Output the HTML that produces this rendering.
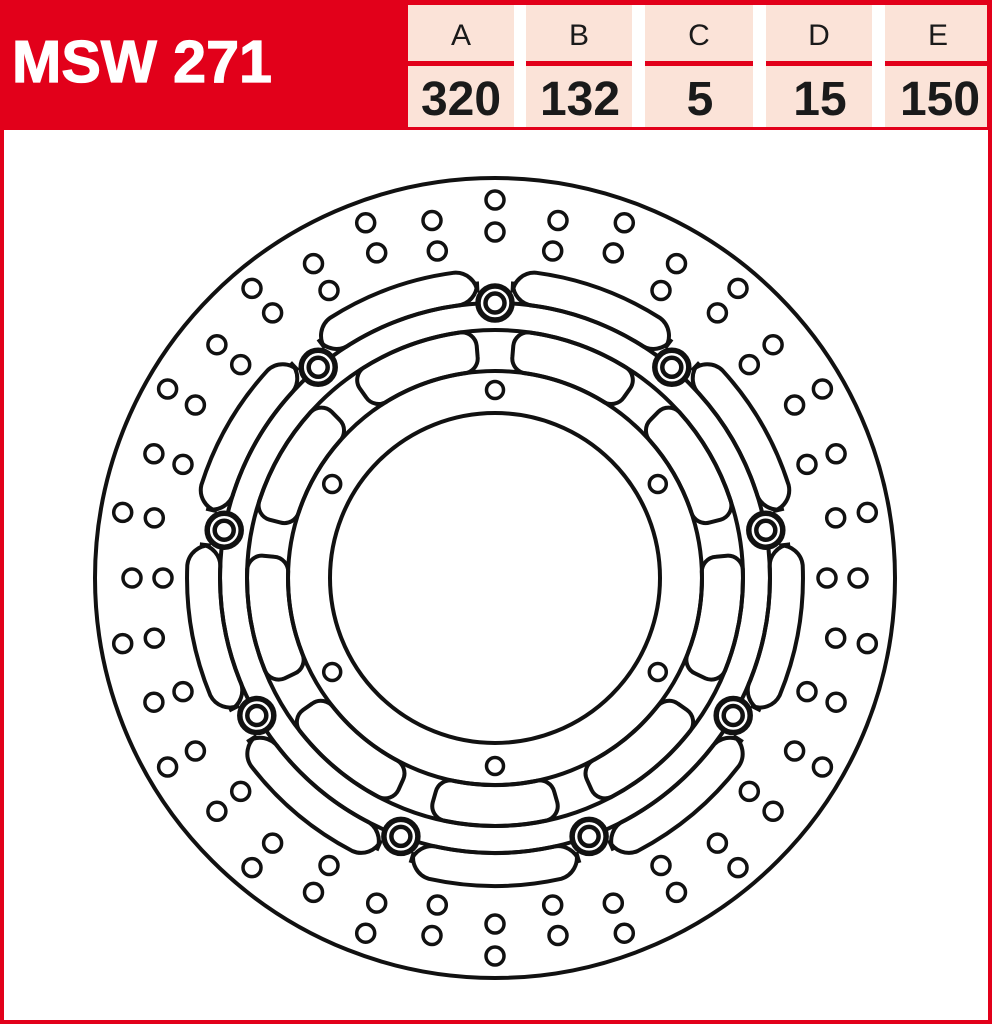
<!DOCTYPE html>
<html><head><meta charset="utf-8"><style>
html,body{margin:0;padding:0;background:#fff}
#w{position:relative;width:992px;height:1024px;overflow:hidden;background:#fff;font-family:"Liberation Sans",sans-serif}
</style></head><body><div id="w">
<svg id="s" width="992" height="1024" viewBox="0 0 992 1024" xmlns="http://www.w3.org/2000/svg">
<rect x="0" y="0" width="992" height="1024" fill="#e2001a"/>
<rect x="4" y="130" width="984" height="890" fill="#fff"/>
<g fill="#fbe3d8">
<rect x="408" y="5" width="106" height="56"/><rect x="526" y="5" width="106" height="56"/><rect x="645" y="5" width="108" height="56"/><rect x="766" y="5" width="106" height="56"/><rect x="885" y="5" width="102" height="56"/>
<rect x="408" y="66" width="106" height="61"/><rect x="526" y="66" width="106" height="61"/><rect x="645" y="66" width="108" height="61"/><rect x="766" y="66" width="106" height="61"/><rect x="885" y="66" width="102" height="61"/>
</g>
<g fill="#fff"><rect x="514" y="5" width="12" height="122"/><rect x="632" y="5" width="13" height="122"/><rect x="753" y="5" width="13" height="122"/><rect x="872" y="5" width="13" height="122"/></g>
<text x="12" y="82" fill="#fff" stroke="#fff" stroke-width="1.2" font-family="Liberation Sans, sans-serif" font-weight="bold" font-size="59" textLength="260" lengthAdjust="spacingAndGlyphs">MSW 271</text>
<g font-family="Liberation Sans, sans-serif" font-size="30" text-anchor="middle" fill="#1a1a1a">
<text x="461" y="45">A</text><text x="579" y="45">B</text><text x="699" y="45">C</text><text x="819" y="45">D</text><text x="938" y="45">E</text>
</g>
<g font-family="Liberation Sans, sans-serif" font-size="48" font-weight="bold" text-anchor="middle" fill="#1a1a1a">
<text x="461" y="115">320</text><text x="580" y="115">132</text><text x="700" y="115">5</text><text x="820" y="115">15</text><text x="940" y="115">150</text>
</g>
<g id="d" fill="none" stroke="#111" stroke-width="4"></g>
</svg>
<script>
(function(){
var cx=495,cy=578,g=document.getElementById('d'),h='';
function P(r,a){a=a*Math.PI/180;return [(cx+r*Math.sin(a)).toFixed(1),(cy-r*Math.cos(a)).toFixed(1)];}
function C(x,y,r,sw){h+='<circle cx="'+x+'" cy="'+y+'" r="'+r+'"'+(sw?' stroke-width="'+sw+'"':'')+'/>';}
function sector(r1,r2,a1,a2,c){
 var d2=c/r2*180/Math.PI,d1=c/r1*180/Math.PI;
 var s='M'+P(r2,a1+d2).join(',');
 s+=' A'+r2+','+r2+' 0 0 1 '+P(r2,a2-d2).join(',');
 s+=' A'+c+','+c+' 0 0 1 '+P(r2-c,a2).join(',');
 s+=' L'+P(r1+c,a2).join(',');
 s+=' A'+c+','+c+' 0 0 1 '+P(r1,a2-d1).join(',');
 s+=' A'+r1+','+r1+' 0 0 0 '+P(r1,a1+d1).join(',');
 s+=' A'+c+','+c+' 0 0 1 '+P(r1+c,a1).join(',');
 s+=' L'+P(r2-c,a1).join(',');
 s+=' A'+c+','+c+' 0 0 1 '+P(r2,a1+d2).join(',')+' Z';
 h+='<path d="'+s+'"/>';
}
C(cx,cy,400);C(cx,cy,165);C(cx,cy,207);C(cx,cy,248);C(cx,cy,275);
for(var i=0;i<9;i++){var a=i*40;sector(275,308,a+3.5,a+36.5,22);sector(207,248,a+4.5,a+35.5,15);}
for(var i=0;i<9;i++){var p=P(275,i*40);h+='<circle cx="'+p[0]+'" cy="'+p[1]+'" r="17" fill="#fff" stroke-width="5.5"/>';C(p[0],p[1],9.5,4.5);}
for(var i=0;i<6;i++){var p=P(188,i*60);C(p[0],p[1],8.5,3.5);}
for(var i=0;i<36;i++){var a=i*10,ro=(i%2==0)?378:363,ri=(i%2==0)?346:332;var p=P(ro,a),q=P(ri,a);C(p[0],p[1],9,3.5);C(q[0],q[1],9,3.5);}
g.innerHTML=h;
})();
</script>
</div></body></html>
